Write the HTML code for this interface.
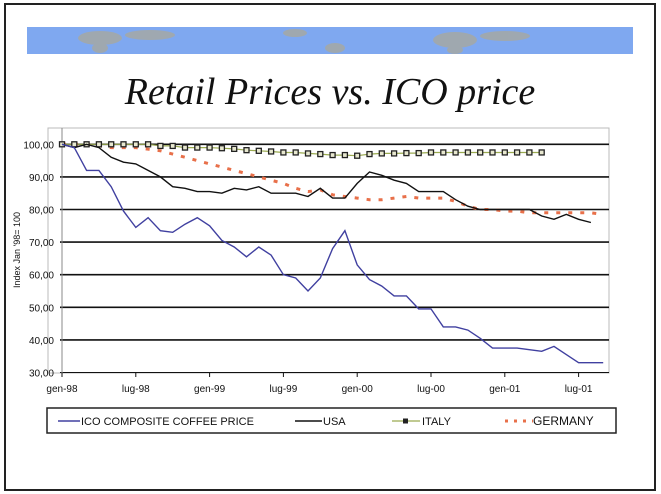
<!DOCTYPE html>
<html><head><meta charset="utf-8"><style>
html,body{margin:0;padding:0;background:#fff;width:661px;height:494px;overflow:hidden}
svg{display:block}
</style></head><body>
<svg id="s" width="661" height="494" xmlns="http://www.w3.org/2000/svg" font-family="Liberation Sans, sans-serif">
<rect x="5" y="4" width="650" height="486" fill="#fff" stroke="#222" stroke-width="2"/>
<rect x="27" y="27" width="606" height="27" fill="#7fa8f0"/>
<g fill="#a8a8a0" opacity="0.8">
<ellipse cx="100" cy="38" rx="22" ry="7"/><ellipse cx="150" cy="35" rx="25" ry="5"/><ellipse cx="100" cy="48" rx="8" ry="5"/>
<ellipse cx="295" cy="33" rx="12" ry="4"/><ellipse cx="335" cy="48" rx="10" ry="5"/>
<ellipse cx="455" cy="40" rx="22" ry="8"/><ellipse cx="505" cy="36" rx="25" ry="5"/><ellipse cx="455" cy="50" rx="8" ry="4"/>
</g>
<text x="330" y="104" text-anchor="middle" font-family="Liberation Serif, serif" font-style="italic" font-size="38" fill="#111">Retail Prices vs. ICO price</text>
<rect x="48" y="128" width="561" height="245" fill="#fff" stroke="#bbb" stroke-width="1"/>
<g id="grid"></g>
<g id="series"></g>
<text transform="translate(20,250) rotate(-90)" text-anchor="middle" font-size="9" fill="#111">Index Jan '98= 100</text>
<rect x="47" y="408" width="569" height="25" fill="#fff" stroke="#222" stroke-width="1.5"/>
<line x1="58" y1="421" x2="80" y2="421" stroke="#4040a0" stroke-width="1.5"/>
<text x="81" y="425" font-size="11" fill="#111">ICO COMPOSITE COFFEE PRICE</text>
<line x1="295" y1="421" x2="322" y2="421" stroke="#111" stroke-width="1.5"/>
<text x="323" y="425" font-size="11" fill="#111">USA</text>
<line x1="392" y1="421" x2="420" y2="421" stroke="#9aaa50" stroke-width="1.2"/>
<rect x="403" y="418.5" width="5" height="5" fill="#222"/>
<text x="422" y="425" font-size="11" fill="#111">ITALY</text>
<line x1="505" y1="421" x2="533" y2="421" stroke="#e8704a" stroke-width="3" stroke-dasharray="3,6"/>
<text x="533" y="425" font-size="12" fill="#111">GERMANY</text>
</svg>
<script>
var NS="http://www.w3.org/2000/svg";
function el(t,a,p){var e=document.createElementNS(NS,t);for(var k in a)e.setAttribute(k,a[k]);(p||document.getElementById('series')).appendChild(e);return e;}
var X=function(i){return 62+12.3*i}, Y=function(v){return 144.3+(100-v)*3.26};
var g=document.getElementById('grid');
for(var v=30;v<=100;v+=10){
 el('line',{x1:60,y1:Y(v),x2:609,y2:Y(v),stroke:'#111','stroke-width':v==30?1:1.6},g);
 var t=el('text',{x:54,y:Y(v)+4,'text-anchor':'end','font-size':10,fill:'#111'},g);t.textContent=v+',00';
}
el('line',{x1:62,y1:128,x2:62,y2:373,stroke:'#888','stroke-width':1},g);
var labs=['gen-98','lug-98','gen-99','lug-99','gen-00','lug-00','gen-01','lug-01'];
for(var i=0;i<8;i++){var x=X(i*6);el('line',{x1:x,y1:373,x2:x,y2:377,stroke:'#111'},g);
 var t=el('text',{x:x,y:392,'text-anchor':'middle','font-size':10,fill:'#111'},g);t.textContent=labs[i];}
function pts(a){return a.map(function(v,i){return X(i).toFixed(1)+','+Y(v).toFixed(1)}).join(' ')}
var ico=[100,99,92,92,87,79.5,74.5,77.5,73.5,73,75.5,77.5,75,70.5,68.5,65.5,68.5,66,60,59,55,59,68,73.5,63,58.5,56.5,53.5,53.5,49.5,49.5,44,44,43,40.5,37.5,37.5,37.5,37,36.5,38,35.5,33,33,33];
var usa=[100,99,100,99,96,94.5,94,92,90,87,86.5,85.5,85.5,85,86.5,86,87,85,85,85,84,86.5,83.5,83.5,88,91.5,90.5,89,88,85.5,85.5,85.5,83,81,80,80,80,80,80,78,77,78.5,77,76];
var ger=[100,100,100,99.5,99,99,99,98.5,98,97,96,95,94,93,92,91,90,89,88,86.5,85.5,86,84.5,84,83.5,83,83,83.5,84,83.5,83.5,83.5,82.5,81,80,80,79.5,79.5,79,79,79,79,79,79,78.5];
var ita=[100,100,100,100,100,100,100,100,99.5,99.5,99,99,99,98.8,98.6,98.2,98,97.8,97.5,97.5,97.2,97,96.7,96.7,96.5,97,97.2,97.2,97.3,97.3,97.5,97.5,97.5,97.5,97.5,97.5,97.5,97.5,97.5,97.5];
el('polyline',{points:pts(ger),fill:'none',stroke:'#e8704a','stroke-width':3,'stroke-dasharray':'4,8'});
el('polyline',{points:pts(ita),fill:'none',stroke:'#9aaa50','stroke-width':1.2});
ita.forEach(function(v,i){el('rect',{x:X(i)-2.5,y:Y(v)-2.5,width:5,height:5,fill:'#e8e8d0',stroke:'#222','stroke-width':1.3});});
el('polyline',{points:pts(usa),fill:'none',stroke:'#111','stroke-width':1.4});
el('polyline',{points:pts(ico),fill:'none',stroke:'#4040a0','stroke-width':1.4});
</script>
</body></html>
